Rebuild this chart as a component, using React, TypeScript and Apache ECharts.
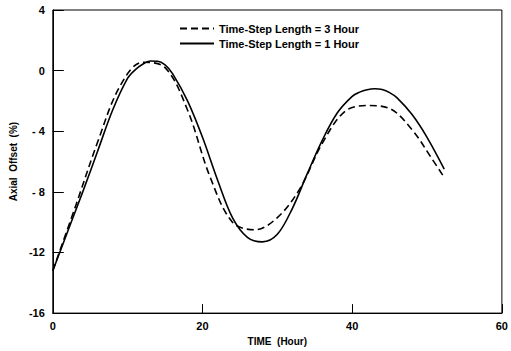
import React, { useEffect, useRef } from "react";
import * as echarts from "echarts";

const dashedTimes = [0, 3, 6, 9, 12, 15, 18, 21, 24, 27, 30, 33, 36, 39, 42, 45, 48, 50.5, 52.1];
const dashedValues = [-13.2, -9.0, -4.7, -1.0, 0.55, 0.2, -2.6, -7.0, -10.0, -10.5, -9.7, -7.8, -4.8, -2.7, -2.3, -2.5, -3.9, -5.7, -6.9];

const solidTimes = [0, 2, 4, 6, 8, 10, 11, 12, 13, 14, 15, 16, 18, 20, 22, 24, 26, 28, 30, 32, 34, 36, 38, 40, 41, 42, 43, 44, 45, 46, 48, 50, 52.3];
const solidValues = [-13.2, -10.6, -8.0, -5.3, -2.6, -0.5, 0.05, 0.42, 0.63, 0.62, 0.38, -0.2, -2.0, -4.4, -7.2, -9.7, -11.0, -11.3, -10.8, -9.1, -6.8, -4.6, -2.8, -1.7, -1.42, -1.26, -1.2, -1.25, -1.45, -1.8, -2.9, -4.4, -6.5];

const seriesNames = ["Time-Step Length = 3 Hour", "Time-Step Length = 1 Hour"];
const xTicks = [0, 20, 40, 60];
const yTicks = [-16, -12, -8, -4, 0, 4];

const FONT = "Liberation Sans";

export default function App() {
  const ref = useRef<HTMLDivElement>(null);
  useEffect(() => {
    if (!ref.current) return;
    const chart = echarts.init(ref.current, undefined, { renderer: "svg" });
    const pair = (ts: number[], vs: number[]) => ts.map((t, i) => [t, vs[i]]);
    chart.setOption({
      animation: false,
      backgroundColor: "#fff",
      textStyle: { fontFamily: FONT, color: "#000" },
      grid: {
        left: 50,
        right: 4,
        top: 10,
        bottom: 35,
        show: true,
        borderColor: "#000",
        borderWidth: 1,
      },
      legend: {
        orient: "vertical",
        left: 174,
        top: 18,
        itemWidth: 34,
        itemHeight: 10,
        itemGap: 4,
        data: seriesNames,
        itemStyle: { color: "transparent", borderWidth: 0 },
        textStyle: { fontFamily: FONT, fontSize: 11, fontWeight: "bold", color: "#000" },
      },
      xAxis: {
        type: "value",
        min: xTicks[0],
        max: xTicks[xTicks.length - 1],
        interval: 20,
        name: "TIME  (Hour)",
        nameLocation: "middle",
        nameGap: 20,
        nameTextStyle: { fontFamily: FONT, fontSize: 10, fontWeight: "bold", color: "#000" },
        axisLine: { onZero: false, lineStyle: { color: "#000", width: 1 } },
        axisTick: { inside: true, length: 9, lineStyle: { color: "#000" } },
        axisLabel: { fontFamily: FONT, fontSize: 11, fontWeight: "bold", color: "#000", margin: 7 },
        splitLine: { show: false },
      },
      yAxis: {
        type: "value",
        min: yTicks[0],
        max: yTicks[yTicks.length - 1],
        interval: 4,
        name: "Axial  Offset  (%)",
        nameLocation: "middle",
        nameGap: 34,
        nameTextStyle: { fontFamily: FONT, fontSize: 10, fontWeight: "bold", color: "#000" },
        axisLine: { onZero: false, lineStyle: { color: "#000", width: 1 } },
        axisTick: { inside: true, length: 11, lineStyle: { color: "#000" } },
        axisLabel: {
          fontFamily: FONT,
          fontSize: 11,
          fontWeight: "bold",
          color: "#000",
          margin: 8,
          formatter: (v: number) => (v < 0 && v > -10 ? "- " + Math.abs(v) : v < 0 ? "-" + Math.abs(v) : String(v)),
        },
        splitLine: { show: false },
      },
      series: [
        {
          name: seriesNames[0],
          type: "line",
          smooth: 0.35,
          symbol: "none",
          data: pair(dashedTimes, dashedValues),
          lineStyle: { color: "#000", width: 1.6, type: [7, 4] },
          itemStyle: { color: "#000" },
        },
        {
          name: seriesNames[1],
          type: "line",
          smooth: 0.35,
          symbol: "none",
          data: pair(solidTimes, solidValues),
          lineStyle: { color: "#000", width: 1.6 },
          itemStyle: { color: "#000" },
        },
      ],
    });
    return () => chart.dispose();
  }, []);
  return <div ref={ref} style={{ width: 511, height: 351, position: "absolute", left: 0, top: 0 }} />;
}
